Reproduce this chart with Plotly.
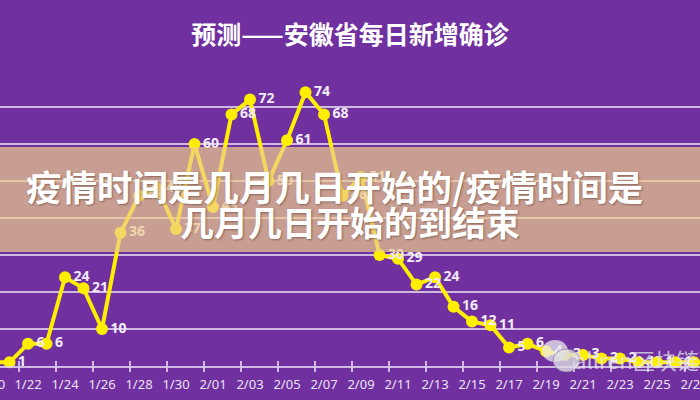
import plotly.graph_objects as go

# ---- data ----
dates = ["1/20", "1/21", "1/22", "1/23", "1/24", "1/25", "1/26", "1/27", "1/28", "1/29",
         "1/30", "1/31", "2/01", "2/02", "2/03", "2/04", "2/05", "2/06", "2/07", "2/08",
         "2/09", "2/10", "2/11", "2/12", "2/13", "2/14", "2/15", "2/16", "2/17", "2/18",
         "2/19", "2/20", "2/21", "2/22", "2/23", "2/24", "2/25", "2/26", "2/27", "2/28"]
new_cases = [1, 1, 6, 6, 24, 21, 10, 36, 46, 48,
             37, 60, 43, 68, 72, 50, 61, 74, 68, 46,
             51, 30, 29, 22, 24, 16, 12, 11, 5, 6,
             4, 3, 3, 2, 2, 1, 1, 1, 1, 1]
title_text = "预测——安徽省每日新增确诊"
banner_line1 = "疫情时间是几月几日开始的/疫情时间是"
banner_line2 = "几月几日开始的到结束"
watermark = "allren区块链联"

PURPLE = "#7030A0"
YELLOW = "#FFEE00"
GRID = "rgba(225,210,240,0.85)"
TICK_FONT = dict(family="Noto Sans", size=13, color="#ECE4F4")

idx = list(range(len(dates)))
label_idx = idx[::2]                       # every second day labelled
label_txt = [dates[i] for i in label_idx]
tick_pos = [i - 0.5 for i in label_idx]    # tick marks sit between categories

x_range = [0.486, 0.486 + 700 / 18.5]

fig = go.Figure()
fig.add_trace(go.Scatter(
    x=idx, y=new_cases,
    mode="lines+markers+text",
    line=dict(color=YELLOW, width=4),
    marker=dict(color=YELLOW, size=12),
    text=[str(v) for v in new_cases],
    textposition="middle right",
    textfont=dict(family="Noto Sans", size=14, color="#F2ECF8", weight="bold"),
    cliponaxis=False,
    showlegend=False,
    hoverinfo="skip",
))

fig.update_layout(
    width=700, height=400,
    template="none",
    paper_bgcolor=PURPLE, plot_bgcolor=PURPLE,
    margin=dict(l=0, r=0, t=70, b=34),
    title=dict(text=title_text, x=0.5, xanchor="center", y=1 - 35 / 400, yanchor="middle",
               yref="container",
               font=dict(family="Noto Sans CJK SC", size=25, color="white", weight="bold")),
    xaxis=dict(range=x_range, tickmode="array", tickvals=label_idx, ticktext=label_txt,
               showgrid=False, zeroline=False, showline=True, linecolor=GRID, linewidth=1.5,
               ticks="", ticklabelstandoff=6, ticklabeloverflow="allow",
               tickfont=TICK_FONT),
    xaxis2=dict(range=x_range, overlaying="x", anchor="y", side="bottom",
                tickmode="array", tickvals=tick_pos, showticklabels=False,
                ticks="outside", ticklen=5, tickwidth=1.5, tickcolor=GRID,
                showgrid=False, zeroline=False, showline=False),
    xaxis3=dict(range=x_range, overlaying="x", anchor="y", side="bottom",
                tickmode="array", tickvals=tick_pos, showticklabels=False,
                ticks="inside", ticklen=5, tickwidth=1.5, tickcolor=GRID,
                showgrid=False, zeroline=False, showline=False),
    yaxis=dict(range=[0, 80], dtick=10, showticklabels=False, showgrid=True,
               gridcolor=GRID, gridwidth=1.5, zeroline=False, showline=False, ticks=""),
)

# dummy traces to activate the overlay tick axes
fig.add_trace(go.Scatter(x=[idx[0]], y=[None], xaxis="x2", showlegend=False, hoverinfo="skip"))
fig.add_trace(go.Scatter(x=[idx[0]], y=[None], xaxis="x3", showlegend=False, hoverinfo="skip"))

# first date label falls just outside the visible range: show its cut-off remainder
first_x_paper = (label_idx[0] - x_range[0]) / (x_range[1] - x_range[0])
fig.add_annotation(text=label_txt[0], x=first_x_paper, xref="paper", yref="paper", y=0,
                   xanchor="center", yanchor="top", yshift=-7, showarrow=False, font=TICK_FONT)

# translucent banner overlay
fig.add_shape(type="rect", xref="paper", yref="paper",
              x0=0, x1=1, y0=(366 - 252) / 296, y1=(366 - 147) / 296,
              fillcolor="rgba(238,205,139,0.7)", line=dict(width=0), layer="above")

fig.add_annotation(text=banner_line1, xref="paper", yref="paper",
                   x=334 / 700, y=(366 - 185) / 296, xanchor="center", yanchor="middle",
                   showarrow=False,
                   font=dict(family="Noto Sans CJK SC", size=35.5, color="white", weight="bold",
                             shadow="1px 1px 2px rgba(60,30,20,0.45)"))
fig.add_annotation(text=banner_line2, xref="paper", yref="paper",
                   x=350 / 700, y=(366 - 221) / 296, xanchor="center", yanchor="middle",
                   showarrow=False,
                   font=dict(family="Noto Sans CJK SC", size=34, color="white", weight="bold",
                             shadow="1px 1px 2px rgba(60,30,20,0.45)"))

# watermark
fig.add_shape(type="circle", xref="paper", yref="paper",
              x0=542 / 700, x1=568 / 700, y0=(366 - 362) / 296, y1=(366 - 340) / 296,
              fillcolor="rgba(235,235,240,0.75)", line=dict(width=0), layer="above")
fig.add_shape(type="circle", xref="paper", yref="paper",
              x0=553 / 700, x1=580 / 700, y0=(366 - 372) / 296, y1=(366 - 349) / 296,
              fillcolor="rgba(220,220,228,0.8)", line=dict(color="rgba(120,90,150,0.6)", width=1),
              layer="above")
fig.add_annotation(text=watermark, xref="paper", yref="paper",
                   x=572 / 700, y=(366 - 359) / 296, xanchor="left", yanchor="middle",
                   showarrow=False,
                   font=dict(family="Noto Sans CJK SC", size=22, color="rgba(230,230,236,0.75)"))

fig.write_html("out.html", config={"displayModeBar": False},
               post_script="document.body.style.margin='0';document.body.style.overflow='hidden';")
